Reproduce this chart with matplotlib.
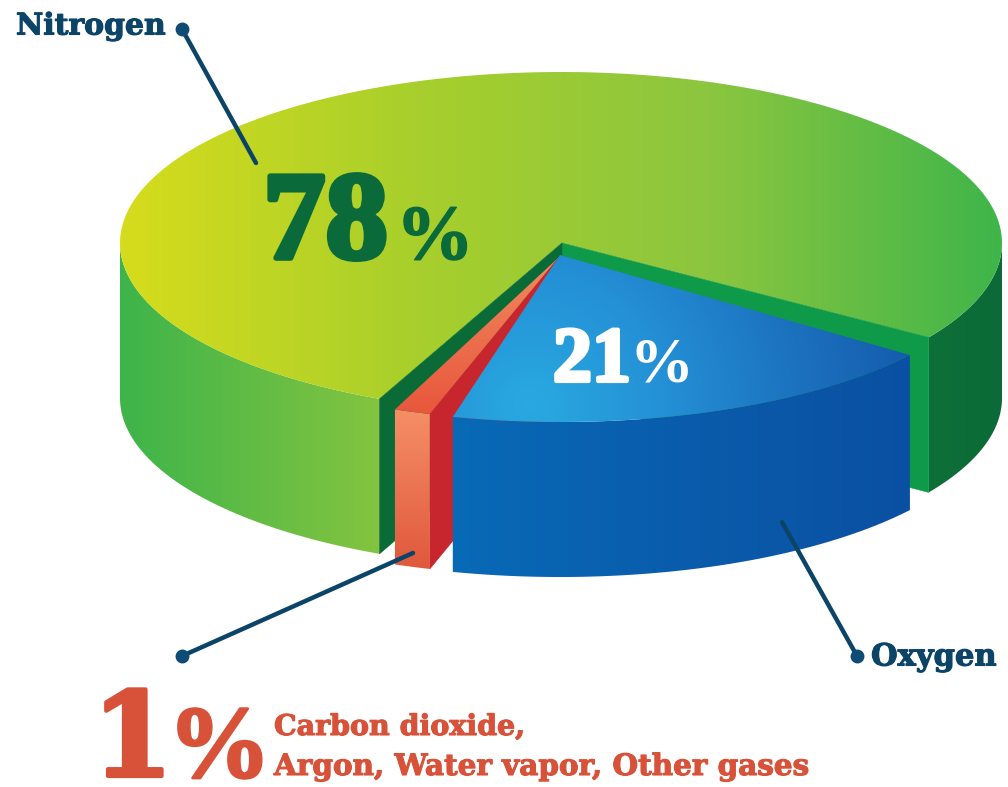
import numpy as np
import matplotlib
matplotlib.use("Agg")
from matplotlib import pyplot as plt
from matplotlib import patheffects as pe
from matplotlib.colors import LinearSegmentedColormap as LSC
from matplotlib.patches import Polygon

# data
gases = ["Nitrogen", "Oxygen", "Carbon dioxide,\nArgon, Water vapor, Other gases"]
shares = [78, 21, 1]
share_labels = ["78", "21", "1"]

# ellipse of the disc in pixels
RX, RY = 441, 171
DEPTH = 155
A0 = 114.3  # where the nitrogen slice starts, degrees clockwise from 3 o'clock

# per slice: centre, radii, trim of start and end angle (the artwork is not exact)
geom = [
    dict(c=(561, 243), r=(RX, RY), trim=(0, -1.6)),
    dict(c=(560, 255), r=(437, 167), trim=(1.7, -6.5)),
    dict(c=(558, 258), r=(441, 163), trim=(-3.8, -2.6)),
]

NAVY = "#0c4468"
DOT = "#0e4c75"
GREEN_TXT = "#0b6a3a"
RED_TXT = "#d8523a"
SERIF = "DejaVu Serif"
SLAB = "Liberation Serif"

fig = plt.figure(figsize=(10.08, 7.87), dpi=100)
ax = fig.add_axes([0, 0, 1, 1])


def arc(g, a, b, n=120):
    t = np.radians(np.linspace(a, b, n))
    return np.c_[g["c"][0] + g["r"][0] * np.cos(t), g["c"][1] + g["r"][1] * np.sin(t)]


def down(pts):
    return pts + [0, DEPTH]


def band(top):
    # side face under an edge or arc
    return np.vstack([top, down(top)[::-1]])


def shade(pts, colors, kind="x", z=1, focus=None, reach=1.0):
    # gradient image clipped to a polygon
    x0, y0 = pts.min(axis=0) - 1
    x1, y1 = pts.max(axis=0) + 1
    xx, yy = np.meshgrid(np.linspace(x0, x1, 300), np.linspace(y0, y1, 300))
    if kind == "x":
        v = (xx - x0) / (x1 - x0)
    elif kind == "y":
        v = (yy - y0) / (y1 - y0)
    else:
        v = np.clip(np.hypot(xx - focus[0], yy - focus[1]) / reach, 0, 1)
    im = ax.imshow(v, extent=(x0, x1, y1, y0), cmap=LSC.from_list("g", colors), vmin=0, vmax=1,
                   aspect="auto", zorder=z, interpolation="bilinear")
    p = Polygon(pts, closed=True, fc="none", ec="none", transform=ax.transData)
    ax.add_patch(p)
    im.set_clip_path(p)


def flat(pts, color, z=1):
    ax.add_patch(Polygon(pts, closed=True, fc=color, ec=color, lw=0.4, zorder=z))


# slice angles come from the shares
edges = A0 + np.cumsum([0] + [s * 3.6 for s in shares])
ang = [(edges[i] + geom[i]["trim"][0], edges[i + 1] + geom[i]["trim"][1]) for i in range(3)]

# nitrogen
g = geom[0]
a, b = ang[0]
apex = np.array(g["c"], float) + [1, 0]
top = arc(g, a, b, 400)
shade(band(arc(g, a, 180)), ["#3db44a", "#84c440"], z=1)
shade(band(arc(g, 360, b)), ["#0e7039", "#0b6a37"], z=1)
shade(np.vstack([apex, top]), ["#d6dc1c", "#a8cf2c", "#8cc63f", "#3fb54a"], z=2)
left_c, right_c = top[0], top[-1]
flat(np.vstack([apex, right_c, down(right_c), down(apex)]), "#0f9a4a", z=3)
flat(np.vstack([apex, left_c, down(left_c), down(apex)]), "#0a6b37", z=3)

# rest of the gases
g = geom[2]
a, b = ang[2]
apex = np.array(g["c"], float)
top = arc(g, a, b, 30)
flat(np.vstack([apex, top[0], down(top[0]), down(apex)]), "#c8262e", z=4)
shade(band(top), ["#f58f66", "#e0583c"], kind="y", z=5)
shade(np.vstack([apex, top]), ["#f08a5e", "#e8563c"], kind="y", z=5)

# oxygen
g = geom[1]
a, b = ang[1]
apex = np.array(g["c"], float)
top = arc(g, a, b, 200)
shade(band(top), ["#086ab6", "#0a5cac", "#0b50a2"], z=6)
shade(np.vstack([apex, top]), ["#29a9e0", "#2490d6", "#1c72bf", "#1459aa"], kind="r", z=7,
      focus=(530, 405), reach=400)

# leader lines
leaders = [((182, 29), (256, 163)), ((857, 656), (782, 522)), ((182, 656), (413, 553))]
for (x0, y0), (x1, y1) in leaders:
    ax.plot([x0, x1], [y0, y1], color=NAVY, lw=3.2, solid_capstyle="round", zorder=9)
    ax.plot([x0], [y0], "o", color=DOT, ms=10, mew=0, zorder=9)


# text
def fat(w, color):
    return [pe.withStroke(linewidth=w, foreground=color)]


label = dict(family=SERIF, weight="bold", ha="left", zorder=10)
ax.text(16, 26, gases[0], color=NAVY, fontsize=21.5, va="center", path_effects=fat(0.8, NAVY), **label)
ax.text(871, 657, gases[1], color=NAVY, fontsize=22, va="center", path_effects=fat(0.8, NAVY), **label)
first, second = gases[2].split("\n")
ax.text(274, 735, first, color=RED_TXT, fontsize=20.5, va="baseline", path_effects=fat(0.8, RED_TXT), **label)
ax.text(274, 775, second, color=RED_TXT, fontsize=21.2, va="baseline", path_effects=fat(0.8, RED_TXT), **label)

big = dict(family=SLAB, weight="bold", ha="left", va="baseline", zorder=10)
ax.text(263, 258, share_labels[0], color=GREEN_TXT, fontsize=90, path_effects=fat(4, GREEN_TXT), **big)
ax.text(396, 259, "%", color=GREEN_TXT, fontsize=56, path_effects=fat(1, GREEN_TXT), **big)
ax.text(553, 381, share_labels[1], color="white", fontsize=56, path_effects=fat(3, "white"), **big)
ax.text(630, 382, "%", color="white", fontsize=46, **big)
ax.text(92, 776, share_labels[2], family=SERIF, weight="bold", ha="left", va="baseline", zorder=10,
        color=RED_TXT, fontsize=84, path_effects=fat(3, RED_TXT))
ax.text(168, 777, "%", color=RED_TXT, fontsize=74, path_effects=fat(2, RED_TXT), **big)

ax.set_xlim(0, 1008)
ax.set_ylim(787, 0)
ax.axis("off")
fig.savefig("out.png", dpi=100)
